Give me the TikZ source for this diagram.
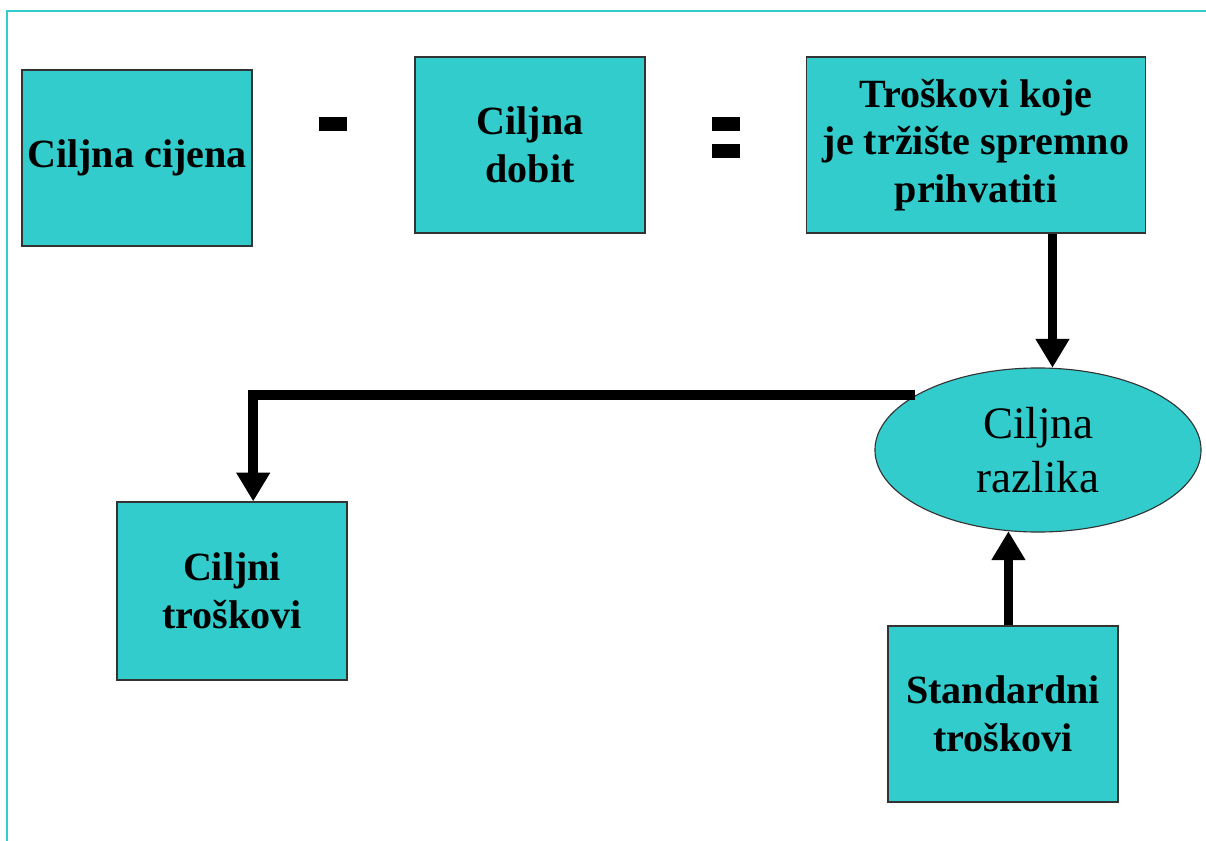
\documentclass[tikz,border=0pt]{standalone}
\usepackage{fontspec}
\setmainfont{Liberation Serif}
\usetikzlibrary{arrows.meta,shapes.geometric}
\definecolor{boxcyan}{RGB}{51,204,204}

\begin{document}
\begin{tikzpicture}[x=0.025cm,y=-0.025cm,
    box/.style={draw=black!80,fill=boxcyan,line width=0.8pt,minimum width=5.75cm,
      minimum height=4.4cm,align=center,inner sep=0pt,
      font=\bfseries\fontsize{28.5}{34}\selectfont},
    sign/.style={fill=black,minimum width=0.7cm,minimum height=0.34cm,inner sep=0pt},
    conn/.style={line width=7pt,line join=miter,-{Triangle[width=0.8cm,length=0.72cm]}}]
    \useasboundingbox (0,0) rectangle (1206,841);
    % frame
    \draw[boxcyan,line width=1.5pt] (7,841) -- (7,11) -- (1206,11);
    % top row
    \node[box] (cena) at (137,158) {Ciljna cijena};
    \node[sign] (minus) at (333,124) {};
    \node[box] (dobit) at (530,145) {Ciljna\\dobit};
    \node[sign] (eqtop) at (726,124) {};
    \node[sign] (eqbot) at (726,151) {};
    \node[box,minimum width=8.475cm] (trziste) at (976,145) {Troškovi koje\\je tržište spremno\\prihvatiti};
    % lower part
    \node[draw=black!80,fill=boxcyan,line width=0.8pt,shape=ellipse,minimum width=8.15cm,
      minimum height=4.1cm,inner sep=0pt,align=center,font=\fontsize{32}{38}\selectfont]
      (razlika) at (1038,450) {Ciljna\\razlika};
    \node[box,minimum height=4.45cm] (ciljni) at (232,591) {Ciljni\\troškovi};
    \node[box] (standard) at (1003,714) {Standardni\\troškovi};
    % connectors
    \draw[conn] (trziste.south -| razlika.80) -- (razlika.80);
    \draw[conn] (standard.north -| razlika.250) -- (razlika.250);
    \draw[conn] (razlika.156) -| ([xshift=0.53cm]ciljni.north);
\end{tikzpicture}
\end{document}
